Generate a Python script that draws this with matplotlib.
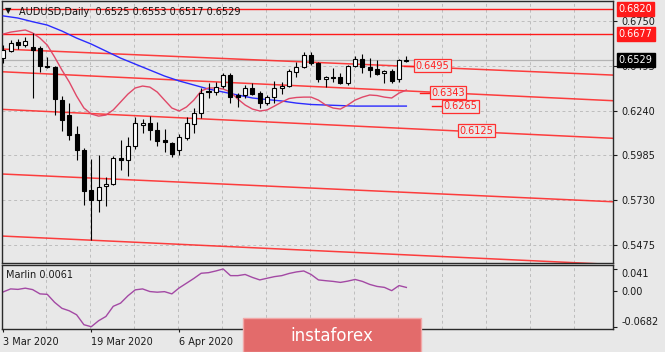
import matplotlib
matplotlib.use('Agg')
import matplotlib.pyplot as plt
import numpy as np
from matplotlib.patches import Rectangle

# daily candles, 3 Mar 2020 onward
opens = [0.6540, 0.6579, 0.6631, 0.6613, 0.6602, 0.6596, 0.6494, 0.6488, 0.6300, 0.6215,
         0.6107, 0.6016, 0.5788, 0.5731, 0.5811, 0.5823, 0.5970, 0.5959, 0.6038, 0.6158,
         0.6170, 0.6130, 0.6073, 0.6055, 0.6016, 0.6084, 0.6164, 0.6227, 0.6352, 0.6346,
         0.6380, 0.6443, 0.6329, 0.6329, 0.6369, 0.6340, 0.6283, 0.6317, 0.6369, 0.6380,
         0.6460, 0.6488, 0.6557, 0.6511, 0.6420, 0.6431, 0.6431, 0.6397, 0.6494, 0.6534,
         0.6488, 0.6477, 0.6454, 0.6466, 0.6420, 0.6525]
highs = [0.6613, 0.6642, 0.6648, 0.6659, 0.6682, 0.6608, 0.6545, 0.6494, 0.6323, 0.6283,
         0.6152, 0.6027, 0.5965, 0.5987, 0.5862, 0.5982, 0.6073, 0.6090, 0.6204, 0.6192,
         0.6209, 0.6175, 0.6135, 0.6061, 0.6107, 0.6204, 0.6255, 0.6369, 0.6397, 0.6403,
         0.6454, 0.6454, 0.6340, 0.6386, 0.6397, 0.6352, 0.6329, 0.6409, 0.6403, 0.6477,
         0.6517, 0.6574, 0.6574, 0.6517, 0.6437, 0.6483, 0.6454, 0.6500, 0.6551, 0.6562,
         0.6540, 0.6528, 0.6471, 0.6477, 0.6534, 0.6553]
lows = [0.6511, 0.6574, 0.6591, 0.6602, 0.6312, 0.6460, 0.6483, 0.6215, 0.6124, 0.6073,
        0.5959, 0.5703, 0.5504, 0.5663, 0.5697, 0.5817, 0.5902, 0.5868, 0.6021, 0.6113,
        0.6073, 0.6038, 0.6005, 0.5976, 0.5987, 0.6073, 0.6113, 0.6198, 0.6312, 0.6329,
        0.6369, 0.6283, 0.6261, 0.6312, 0.6329, 0.6255, 0.6272, 0.6283, 0.6334, 0.6374,
        0.6431, 0.6483, 0.6500, 0.6403, 0.6374, 0.6403, 0.6391, 0.6386, 0.6488, 0.6454,
        0.6431, 0.6443, 0.6397, 0.6397, 0.6403, 0.6517]
closes = [0.6585, 0.6625, 0.6613, 0.6636, 0.6585, 0.6494, 0.6488, 0.6306, 0.6187, 0.6101,
          0.6016, 0.5782, 0.5731, 0.5805, 0.5823, 0.5970, 0.5959, 0.6038, 0.6170, 0.6170,
          0.6130, 0.6067, 0.6061, 0.5993, 0.6090, 0.6170, 0.6227, 0.6340, 0.6346, 0.6374,
          0.6443, 0.6317, 0.6317, 0.6369, 0.6334, 0.6283, 0.6317, 0.6369, 0.6380, 0.6466,
          0.6488, 0.6557, 0.6511, 0.6420, 0.6431, 0.6426, 0.6397, 0.6494, 0.6534, 0.6488,
          0.6471, 0.6448, 0.6466, 0.6409, 0.6528, 0.6529]

fast_ma = [0.6676, 0.6687, 0.6693, 0.6699, 0.6682, 0.6653, 0.6613, 0.6545, 0.6471, 0.6403,
           0.6323, 0.6255, 0.6221, 0.6209, 0.6215, 0.6244, 0.6289, 0.6334, 0.6369, 0.6380,
           0.6374, 0.6346, 0.6300, 0.6255, 0.6238, 0.6261, 0.6300, 0.6352, 0.6369, 0.6369,
           0.6363, 0.6346, 0.6306, 0.6272, 0.6249, 0.6238, 0.6244, 0.6266, 0.6289, 0.6309,
           0.6315, 0.6317, 0.6317, 0.6300, 0.6272, 0.6255, 0.6249, 0.6272, 0.6300, 0.6317,
           0.6329, 0.6326, 0.6317, 0.6312, 0.6340, 0.6357]
slow_ma_idx = [0, 2, 4, 6, 8, 10, 12, 14, 16, 18, 20, 22, 24, 26, 28, 30, 32, 34, 36, 38,
               40, 42, 44, 46, 48, 50, 52, 55]
slow_ma = [0.6779, 0.6767, 0.6746, 0.6727, 0.6693, 0.6653, 0.6619, 0.6579, 0.6539, 0.6505,
           0.6471, 0.6437, 0.6409, 0.6386, 0.6363, 0.6346, 0.6329, 0.6312, 0.6303, 0.6295,
           0.6283, 0.6275, 0.6272, 0.6269, 0.6266, 0.6266, 0.6266, 0.6266]

marlin = [-0.0023, 0.0033, 0.0024, 0.0047, 0.0020, -0.0061, -0.0070, -0.0221, -0.0334, -0.0381,
          -0.0456, -0.0644, -0.0682, -0.0569, -0.0488, -0.0296, -0.0236, -0.0098, 0.0015, 0.0033,
          -0.0017, -0.0029, -0.0019, -0.0061, 0.0052, 0.0141, 0.0231, 0.0329, 0.0340, 0.0372,
          0.0410, 0.0284, 0.0284, 0.0306, 0.0250, 0.0203, 0.0235, 0.0265, 0.0284, 0.0325,
          0.0354, 0.0372, 0.0306, 0.0203, 0.0188, 0.0175, 0.0156, 0.0180, 0.0212, 0.0175,
          0.0118, 0.0080, 0.0062, 0.0000, 0.0096, 0.0061]

# drawn levels
level_lines = [0.6820, 0.6677]
channel_x = [-1, 84]
channel_start = [0.6592, 0.6463, 0.6249, 0.5881, 0.5528]
channel_end = [0.6441, 0.6295, 0.6081, 0.5720, 0.5363]
tag_text = ['0.6495', '0.6343', '0.6265', '0.6125']
tag_value = [0.6495, 0.6343, 0.6265, 0.6125]
tag_x = [58.6, 60.7, 62.4, 64.6]

price_ticks = [0.6750, 0.6495, 0.6240, 0.5985, 0.5730, 0.5475]
marlin_ticks = [0.041, 0.0, -0.0682]
marlin_tick_labels = ['0.041', '0.00', '-0.0682']
date_idx = [0, 12, 24]
date_labels = ['3 Mar 2020', '19 Mar 2020', '6 Apr 2020']

BG = '#e8e8e8'
W, H = 665, 352
fig = plt.figure(figsize=(W / 100, H / 100), dpi=100, facecolor=BG)


def px_axes(l, t, r, b):
    return fig.add_axes([l / W, 1 - b / H, (r - l) / W, (b - t) / H])


ax = px_axes(2, 1, 613, 263)
ax2 = px_axes(2, 265, 613, 329)
xlim = (-0.18, 83.2)

for a in (ax, ax2):
    a.set_facecolor(BG)
    a.set_xlim(*xlim)
    for s in a.spines.values():
        s.set_color('#2a2a2a')
        s.set_linewidth(1.0)
    for g in np.arange(6, 84, 6) - 0.15:
        a.axvline(g, color='#bdbdbd', lw=0.7, ls=(0, (3, 3)), zorder=0)

# ---- main price panel
ax.set_ylim(0.5373, 0.6864)
for p in price_ticks:
    ax.axhline(p, color='#bdbdbd', lw=0.7, ls=(0, (3, 3)), zorder=0)
ax.axhline(closes[-1], color='#b4b4b4', lw=0.9, zorder=1)

for lv in level_lines:
    ax.axhline(lv, color='#ff1a1a', lw=1.0, zorder=2)
for s, e in zip(channel_start, channel_end):
    ax.plot(channel_x, [s, e], color='#ff2a2a', lw=1.1, alpha=0.9, zorder=2)

x = np.arange(len(opens))
o = np.array(opens); c = np.array(closes)
ax.vlines(x, lows, highs, color='black', lw=0.8, zorder=4)
up = c >= o
body_lo = np.minimum(o, c)
body_h = np.maximum(np.abs(c - o), 0.00005)
ax.bar(x[up], body_h[up], 0.55, bottom=body_lo[up], color='white', edgecolor='black', lw=0.8, zorder=5)
ax.bar(x[~up], body_h[~up], 0.55, bottom=body_lo[~up], color='black', edgecolor='black', lw=0.8, zorder=5)

ax.plot(slow_ma_idx, slow_ma, color='#2b2bff', lw=1.0, zorder=3)
ax.plot(x, fast_ma, color='#e04868', lw=1.0, zorder=3)

for t, v, tx in zip(tag_text, tag_value, tag_x):
    ax.text(tx, v, t, color='#ff2020', fontsize=7, ha='center', va='center', zorder=6,
            bbox=dict(boxstyle='square,pad=0.15', fc=BG, ec='#ff3030', lw=0.9))
for v, tx in zip(tag_value[:3], tag_x[:3]):
    ax.plot([tx - 3.9, tx - 2.6], [v, v], color='#ff1a1a', lw=1.0, zorder=5)

ax.yaxis.tick_right()
ax.set_yticks(price_ticks)
ax.set_yticklabels(['%.4f' % p for p in price_ticks])
ax.tick_params(axis='y', length=3, width=0.8, pad=3, labelsize=7, colors='#1a1a1a')
ax.set_xticks([])

ytr = ax.get_yaxis_transform()
for v, fc in [(0.6820, '#ff1a1a'), (0.6677, '#ff1a1a'), (closes[-1], 'black')]:
    ax.text(1.0095, v, '%.4f' % v, transform=ytr, color='white', fontsize=7, ha='left', va='center',
            zorder=10, bbox=dict(boxstyle='square,pad=0.2', fc=fc, ec=fc))

# ---- Marlin panel
ax2.set_ylim(-0.0725, 0.0485)
ax2.plot(x, marlin, color='#a349a4', lw=1.0)
ax2.yaxis.tick_right()
ax2.set_yticks(marlin_ticks)
ax2.set_yticklabels(marlin_tick_labels)
ax2.tick_params(axis='y', length=3, width=0.8, pad=3, labelsize=7, colors='#1a1a1a')
ylab = ax2.get_yticklabels()
ylab[0].set_va('top')
ylab[-1].set_va('bottom')
ax2.set_xticks(date_idx)
ax2.set_xticklabels(date_labels)
ax2.tick_params(axis='x', length=2, width=0.8, pad=4, labelsize=7, colors='#1a1a1a')
for lab in ax2.get_xticklabels():
    lab.set_ha('left')
ax2.text(0.007, 0.84, 'Marlin 0.0061', transform=ax2.transAxes, fontsize=7, color='#1a1a1a',
         va='center')

# title
fig.text(5 / W, 1 - 11 / H, '\u25bc', fontsize=6, color='#111111', va='center')
fig.text(19 / W, 1 - 12 / H, 'AUDUSD,Daily  0.6525 0.6553 0.6517 0.6529', fontsize=7,
         color='#111111', va='center')

# watermark
fig.patches.append(Rectangle((243 / W, 0), 178 / W, 34 / H, transform=fig.transFigure,
                             fc='#e36b6b', ec='#f2a8a8', lw=1.0, zorder=20))
fig.text(332 / W, 1 - 336 / H, 'instaforex', color='white', fontsize=12, ha='center',
         va='center', zorder=21)

fig.savefig('out.png', dpi=100, facecolor=BG)
